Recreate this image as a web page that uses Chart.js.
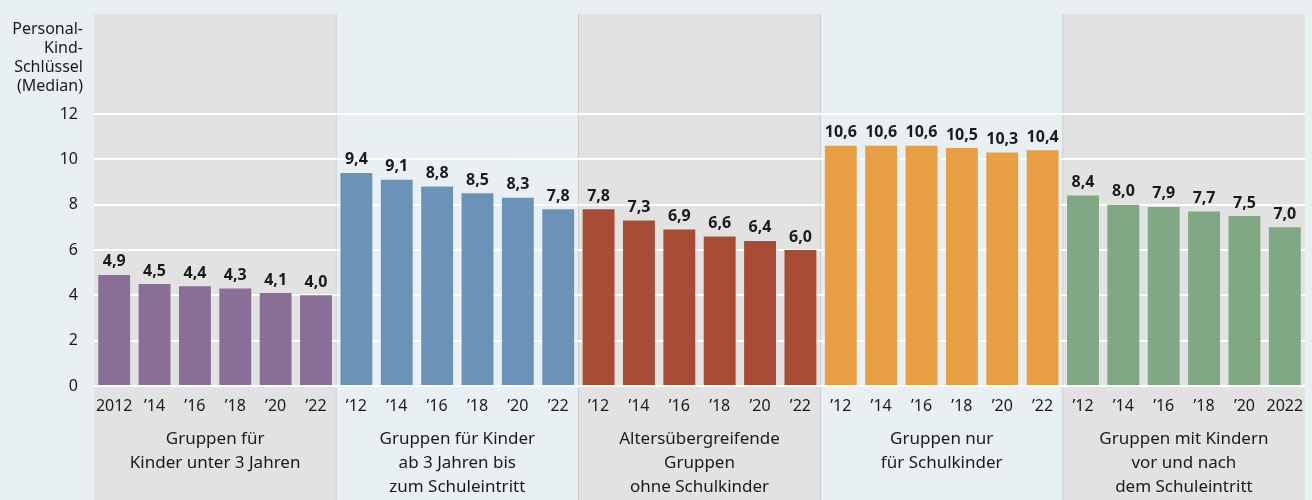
<!DOCTYPE html>
<html>
<head>
<meta charset="utf-8">
<script src="https://cdn.jsdelivr.net/npm/chart.js@4"></script>
<style>
  html, body { margin: 0; padding: 0; background: #e9f0f4; }
  #wrap { width: 1312px; height: 500px; }
</style>
</head>
<body>
<div id="wrap"><canvas id="chart" width="1312" height="500"></canvas></div>
<script>
// data
const yearLabels = [
    '2012', '’14', '’16', '’18', '’20', '’22',
    '’12', '’14', '’16', '’18', '’20', '’22',
    '’12', '’14', '’16', '’18', '’20', '’22',
    '’12', '’14', '’16', '’18', '’20', '’22',
    '’12', '’14', '’16', '’18', '’20', '2022'
];
const groupNames = [
    ['Gruppen für', 'Kinder unter 3 Jahren'],
    ['Gruppen für Kinder', 'ab 3 Jahren bis', 'zum Schuleintritt'],
    ['Altersübergreifende', 'Gruppen', 'ohne Schulkinder'],
    ['Gruppen nur', 'für Schulkinder'],
    ['Gruppen mit Kindern', 'vor und nach', 'dem Schuleintritt']
];
const unter3 = [4.9, 4.5, 4.4, 4.3, 4.1, 4.0];
const ab3 = [9.4, 9.1, 8.8, 8.5, 8.3, 7.8];
const altersuebergreifend = [7.8, 7.3, 6.9, 6.6, 6.4, 6.0];
const schulkinder = [10.6, 10.6, 10.6, 10.5, 10.3, 10.4];
const vorNach = [8.4, 8.0, 7.9, 7.7, 7.5, 7.0];
const groupColors = ['#896e96', '#6b93b7', '#a84c36', '#e89e43', '#7fa883'];
const yTicks = [0, 2, 4, 6, 8, 10, 12];

const allValues = [].concat(unter3, ab3, altersuebergreifend, schulkinder, vorNach);
const barColors = [];
groupColors.forEach(c => { for (let i = 0; i < 6; i++) barColors.push(c); });

const FONT = '"Noto Sans", sans-serif';

// panels behind the plot + axis title + value labels
const panelPlugin = {
    id: 'panels',
    beforeDraw(chart) {
        const ctx = chart.ctx;
        const x = chart.scales.x;
        const step = x.getPixelForValue(1) - x.getPixelForValue(0);
        ctx.save();
        for (let g = 0; g < 5; g++) {
            const left = x.getPixelForValue(g * 6) - step / 2;
            const right = x.getPixelForValue(g * 6 + 5) + step / 2;
            ctx.fillStyle = (g % 2 === 0) ? '#e2e2e2' : '#e9f0f4';
            ctx.fillRect(left, 14, right - left, chart.height - 14);
            if (g > 0) {
                ctx.fillStyle = '#c9cdd0';
                ctx.fillRect(left - 0.5, 14, 1, chart.height - 14);
            }
        }
        // y title
        ctx.fillStyle = '#1a1a1a';
        ctx.font = '16px ' + FONT;
        ctx.textAlign = 'right';
        ctx.textBaseline = 'middle';
        ['Personal-', 'Kind-', 'Schlüssel', '(Median)'].forEach((t, i) => {
            ctx.fillText(t, 83, 29 + i * 19.3);
        });
        ctx.restore();
    },
    afterDatasetsDraw(chart) {
        const ctx = chart.ctx;
        const meta = chart.getDatasetMeta(0);
        ctx.save();
        ctx.fillStyle = '#1a1a1a';
        ctx.font = 'bold 16px ' + FONT;
        ctx.textAlign = 'center';
        ctx.textBaseline = 'bottom';
        meta.data.forEach((bar, i) => {
            const txt = allValues[i].toFixed(1).replace('.', ',');
            ctx.fillText(txt, bar.x, bar.y - 5);
        });
        ctx.restore();
    }
};

new Chart(document.getElementById('chart'), {
    type: 'bar',
    data: {
        labels: yearLabels,
        datasets: [{
            data: allValues,
            backgroundColor: barColors,
            categoryPercentage: 1,
            barPercentage: 0.79
        }]
    },
    options: {
        responsive: false,
        animation: false,
        layout: { padding: { top: 114, right: 7, left: 0, bottom: 0 } },
        plugins: { legend: { display: false }, tooltip: { enabled: false } },
        scales: {
            y: {
                min: 0,
                max: 12,
                afterBuildTicks(scale) { scale.ticks = yTicks.map(v => ({ value: v })); },
                afterFit(scale) { scale.width = 94; },
                border: { display: false },
                grid: { color: '#ffffff', lineWidth: 2, drawTicks: false },
                ticks: { color: '#1a1a1a', font: { family: FONT, size: 16 }, padding: 16 }
            },
            x: {
                position: 'bottom',
                afterFit(scale) { scale.height = 31; },
                border: { display: false },
                grid: { display: false },
                ticks: { color: '#1a1a1a', font: { family: FONT, size: 16 }, padding: 3, maxRotation: 0, autoSkip: false }
            },
            xg: {
                type: 'category',
                position: 'bottom',
                labels: groupNames,
                afterFit(scale) { scale.height = 83; },
                border: { display: false },
                grid: { display: false },
                ticks: { color: '#1a1a1a', font: { family: FONT, size: 17, lineHeight: '24px' }, padding: 2, maxRotation: 0, autoSkip: false }
            }
        }
    },
    plugins: [panelPlugin]
});
</script>
</body>
</html>
